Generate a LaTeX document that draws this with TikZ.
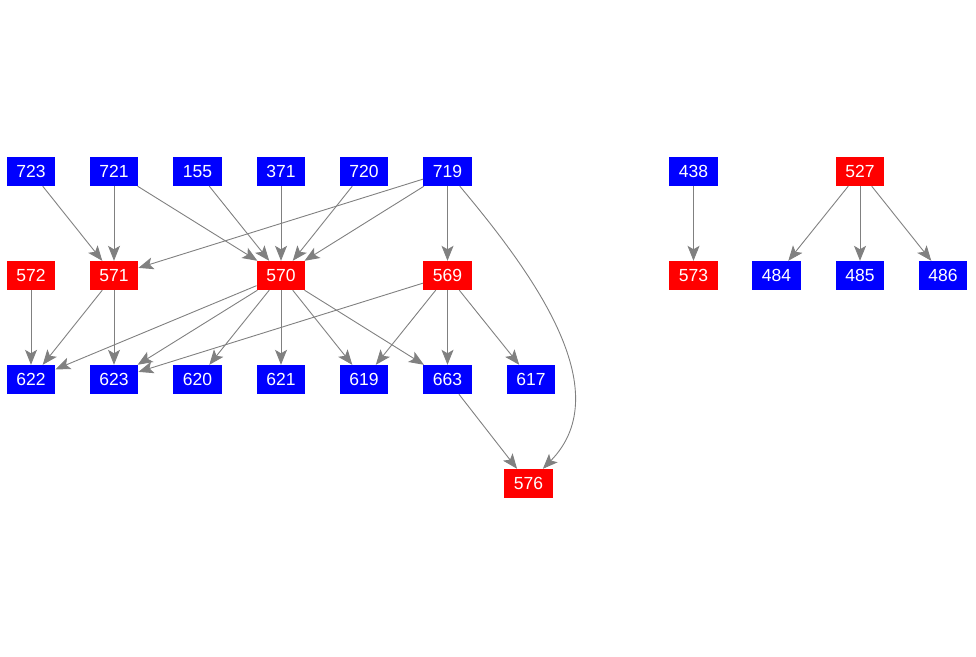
\documentclass[tikz,border=0pt]{standalone}
\usepackage{fontspec}
\setmainfont{Liberation Sans}
\usetikzlibrary{arrows.meta}
\definecolor{nblue}{RGB}{0,0,255}
\definecolor{nred}{RGB}{255,0,0}
\definecolor{egray}{RGB}{128,128,128}
\begin{document}
\begin{tikzpicture}[x=1pt,y=-1pt,
  box/.style={draw=none,minimum width=48.5pt,minimum height=29pt,inner sep=0pt,text=white,font=\fontsize{17.5}{17.5}\selectfont},
  bn/.style={box,fill=nblue},
  rn/.style={box,fill=nred},
  edge/.style={draw=egray,line width=0.9pt,-{Stealth[length=15pt,width=12pt,inset=3.5pt]}}]
\useasboundingbox (0,0) rectangle (976,656);
% row 1
\node[bn] (723) at (31,171.5) {723};
\node[bn] (721) at (114,171.5) {721};
\node[bn] (155) at (197.5,171.5) {155};
\node[bn] (371) at (281,171.5) {371};
\node[bn] (720) at (364,171.5) {720};
\node[bn] (719) at (447.5,171.5) {719};
\node[bn] (438) at (693.5,171.5) {438};
\node[rn] (527) at (860,171.5) {527};
% row 2
\node[rn] (572) at (31,275.5) {572};
\node[rn] (571) at (114,275.5) {571};
\node[rn] (570) at (281,275.5) {570};
\node[rn] (569) at (447.5,275.5) {569};
\node[rn] (573) at (693.5,275.5) {573};
\node[bn] (484) at (776.5,275.5) {484};
\node[bn] (485) at (860,275.5) {485};
\node[bn] (486) at (943,275.5) {486};
% row 3
\node[bn] (622) at (31,379.5) {622};
\node[bn] (623) at (114,379.5) {623};
\node[bn] (620) at (197.5,379.5) {620};
\node[bn] (621) at (281,379.5) {621};
\node[bn] (619) at (364,379.5) {619};
\node[bn] (663) at (447.5,379.5) {663};
\node[bn] (617) at (531,379.5) {617};
% row 4
\node[rn] (576) at (528.5,483.5) {576};
% edges
\draw[edge] (723) -- (571);
\draw[edge] (721) -- (571);
\draw[edge] (721) -- (570);
\draw[edge] (155) -- (570);
\draw[edge] (371) -- (570);
\draw[edge] (720) -- (570);
\draw[edge] (719) -- (570);
\draw[edge] (719) -- (571);
\draw[edge] (719) -- (569);
\draw[edge] (719) .. controls (530,270) and (620,390) .. (576);
\draw[edge] (572) -- (622);
\draw[edge] (571) -- (622);
\draw[edge] (571) -- (623);
\draw[edge] (570) -- (622);
\draw[edge] (570) -- (623);
\draw[edge] (570) -- (620);
\draw[edge] (570) -- (621);
\draw[edge] (570) -- (619);
\draw[edge] (570) -- (663);
\draw[edge] (569) -- (623);
\draw[edge] (569) -- (619);
\draw[edge] (569) -- (663);
\draw[edge] (569) -- (617);
\draw[edge] (663) -- (576);
\draw[edge] (438) -- (573);
\draw[edge] (527) -- (484);
\draw[edge] (527) -- (485);
\draw[edge] (527) -- (486);
\end{tikzpicture}
\end{document}
